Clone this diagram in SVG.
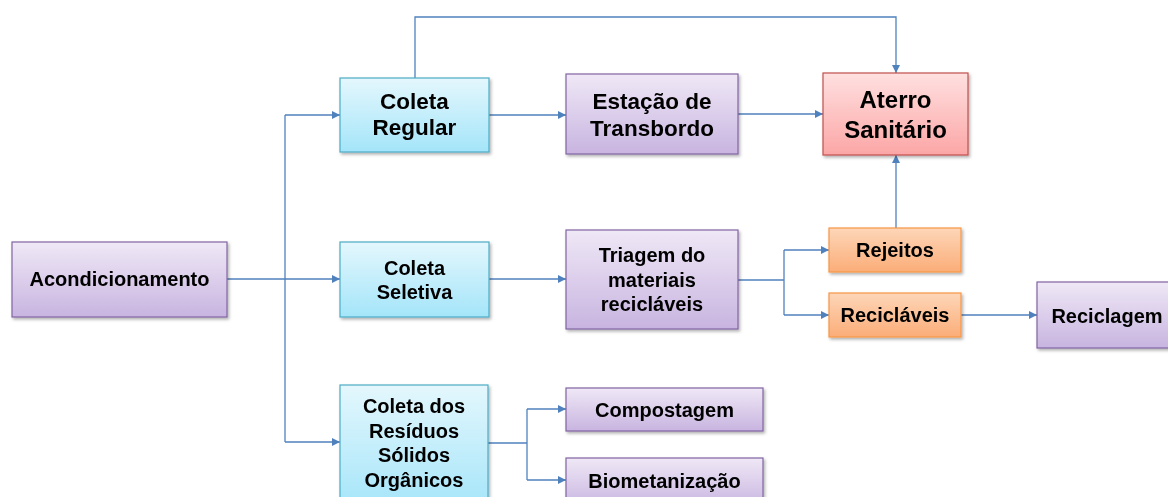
<svg xmlns="http://www.w3.org/2000/svg" width="1168" height="497" viewBox="0 0 1168 497">
<style>
text{font-family:"Liberation Sans",Arial,sans-serif;font-weight:bold;fill:#000;text-anchor:middle}
.p rect{fill:url(#gp);stroke:#8064a2;stroke-width:1.2}
.c rect{fill:url(#gc);stroke:#4bacc6;stroke-width:1.2}
.r rect{fill:url(#gr);stroke:#c0504d;stroke-width:1.2}
.o rect{fill:url(#go);stroke:#f79646;stroke-width:1.2}
.b{filter:url(#sh)}
#conn path{fill:none;stroke:#4f81bd;stroke-width:1.3}
.f20{font-size:20px}
.f22{font-size:22.5px}
.f24{font-size:24px}
</style>
<defs>
<linearGradient id="gp" x1="0" y1="0" x2="0" y2="1"><stop offset="0" stop-color="#efe8f6"/><stop offset="1" stop-color="#c8b4e0"/></linearGradient>
<linearGradient id="gc" x1="0" y1="0" x2="0" y2="1"><stop offset="0" stop-color="#e4f7fd"/><stop offset="1" stop-color="#a4e5f9"/></linearGradient>
<linearGradient id="gr" x1="0" y1="0" x2="0" y2="1"><stop offset="0" stop-color="#ffe0e0"/><stop offset="1" stop-color="#fca6a6"/></linearGradient>
<linearGradient id="go" x1="0" y1="0" x2="0" y2="1"><stop offset="0" stop-color="#fdd6b8"/><stop offset="1" stop-color="#fbad78"/></linearGradient>
<filter id="sh" x="-10%" y="-10%" width="125%" height="130%"><feDropShadow dx="1.5" dy="2" stdDeviation="1.5" flood-color="#000" flood-opacity="0.3"/></filter>
<marker id="ar" viewBox="0 0 10 10" refX="10" refY="5" markerWidth="8" markerHeight="8" markerUnits="userSpaceOnUse" orient="auto"><path d="M0,0 L10,5 L0,10 z" fill="#4f81bd"/></marker>
</defs>
<g id="conn">
<path d="M227,279 H285"/>
<path d="M285,115 V442"/>
<path d="M285,115 H340" marker-end="url(#ar)"/>
<path d="M285,279 H340" marker-end="url(#ar)"/>
<path d="M285,442 H340" marker-end="url(#ar)"/>
<path d="M489,115 H566" marker-end="url(#ar)"/>
<path d="M738,114 H823" marker-end="url(#ar)"/>
<path d="M415,78 V17 H896 V73" marker-end="url(#ar)"/>
<path d="M896,228 V155" marker-end="url(#ar)"/>
<path d="M489,279 H566" marker-end="url(#ar)"/>
<path d="M738,280 H784"/>
<path d="M784,250 V315"/>
<path d="M784,250 H829" marker-end="url(#ar)"/>
<path d="M784,315 H829" marker-end="url(#ar)"/>
<path d="M961,315 H1037" marker-end="url(#ar)"/>
<path d="M488,443 H527"/>
<path d="M527,409 V480"/>
<path d="M527,409 H566" marker-end="url(#ar)"/>
<path d="M527,480 H566" marker-end="url(#ar)"/>
</g>
<g id="acondicionamento" class="p b"><rect x="12" y="242" width="215" height="75"/><text class="f20" x="119.5" y="286">Acondicionamento</text></g>
<g id="coleta-regular" class="c b"><rect x="340" y="78" width="149" height="74"/><text class="f22" x="414.5" y="109">Coleta</text><text class="f22" x="414.5" y="135">Regular</text></g>
<g id="estacao" class="p b"><rect x="566" y="74" width="172" height="80"/><text class="f22" x="652" y="109">Estação de</text><text class="f22" x="652" y="136">Transbordo</text></g>
<g id="aterro" class="r b"><rect x="823" y="73" width="145" height="82"/><text class="f24" x="895.5" y="108">Aterro</text><text class="f24" x="895.5" y="138">Sanitário</text></g>
<g id="coleta-seletiva" class="c b"><rect x="340" y="242" width="149" height="75"/><text class="f20" x="414.5" y="275">Coleta</text><text class="f20" x="414.5" y="299">Seletiva</text></g>
<g id="triagem" class="p b"><rect x="566" y="230" width="172" height="99"/><text class="f20" x="652" y="262">Triagem do</text><text class="f20" x="652" y="287">materiais</text><text class="f20" x="652" y="311">recicláveis</text></g>
<g id="rejeitos" class="o b"><rect x="829" y="228" width="132" height="44"/><text class="f20" x="895" y="257">Rejeitos</text></g>
<g id="reciclaveis" class="o b"><rect x="829" y="293" width="132" height="44"/><text class="f20" x="895" y="322">Recicláveis</text></g>
<g id="reciclagem" class="p b"><rect x="1037" y="282" width="140" height="66"/><text class="f20" x="1107" y="323">Reciclagem</text></g>
<g id="coleta-organicos" class="c b"><rect x="340" y="385" width="148" height="125"/><text class="f20" x="414" y="413">Coleta dos</text><text class="f20" x="414" y="438">Resíduos</text><text class="f20" x="414" y="462">Sólidos</text><text class="f20" x="414" y="487">Orgânicos</text></g>
<g id="compostagem" class="p b"><rect x="566" y="388" width="197" height="43"/><text class="f20" x="664.5" y="417">Compostagem</text></g>
<g id="biometanizacao" class="p b"><rect x="566" y="458" width="197" height="50"/><text class="f20" x="664.5" y="488">Biometanização</text></g>
</svg>
